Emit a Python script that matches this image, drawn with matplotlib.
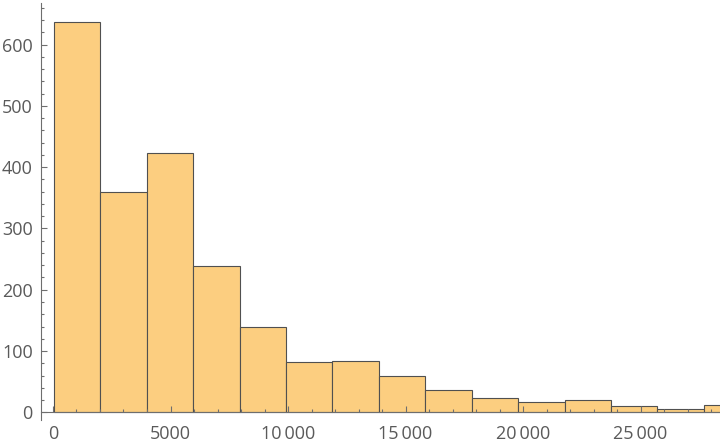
import numpy as np
import matplotlib.pyplot as plt
from matplotlib.ticker import MultipleLocator, FuncFormatter

# histogram data
bin_start = 40
bin_width = 1975
counts = [637, 360, 423, 239, 139, 82, 83, 60, 37, 23, 16, 20, 11, 5, 12]

plt.rcParams['font.family'] = ['Open Sans', 'DejaVu Sans']

edges = bin_start + bin_width * np.arange(len(counts) + 1)

fig = plt.figure(figsize=(7.2, 4.44), dpi=100)
ax = fig.add_axes([41 / 720, 24 / 444, 679 / 720, 417.3 / 444])

ax.bar(edges[:-1], counts, width=bin_width, align='edge',
       color='#FCCE80', edgecolor='#505050', linewidth=0.8, zorder=1)

ax.set_xlim(-510, 28380)
ax.set_ylim(-12.6, 668.5)

axis_col = '#6e6e6e'
for s in ['top', 'right']:
    ax.spines[s].set_visible(False)
ax.spines['bottom'].set_position(('data', 0))
ax.spines['bottom'].set_color(axis_col)
ax.spines['left'].set_color(axis_col)
ax.spines['bottom'].set_zorder(3)

def fmt(v, pos):
    v = int(round(v))
    if v >= 10000:
        return f"{v // 1000}\u2009{v % 1000:03d}"
    return str(v)

ax.xaxis.set_major_locator(MultipleLocator(5000))
ax.xaxis.set_minor_locator(MultipleLocator(1000))
ax.xaxis.set_major_formatter(FuncFormatter(fmt))
ax.yaxis.set_major_locator(MultipleLocator(100))
ax.yaxis.set_minor_locator(MultipleLocator(20))

ax.tick_params(axis='x', which='both', direction='in', colors=axis_col,
               labelcolor='#5a5a5a', labelsize=13, pad=9)
ax.tick_params(axis='y', which='both', direction='in', colors=axis_col,
               labelcolor='#5a5a5a', labelsize=13, pad=6)
ax.tick_params(which='major', length=4, width=0.8)
ax.tick_params(which='minor', length=2, width=0.8)
ax.set_axisbelow(False)

fig.savefig('out.png', dpi=100)
